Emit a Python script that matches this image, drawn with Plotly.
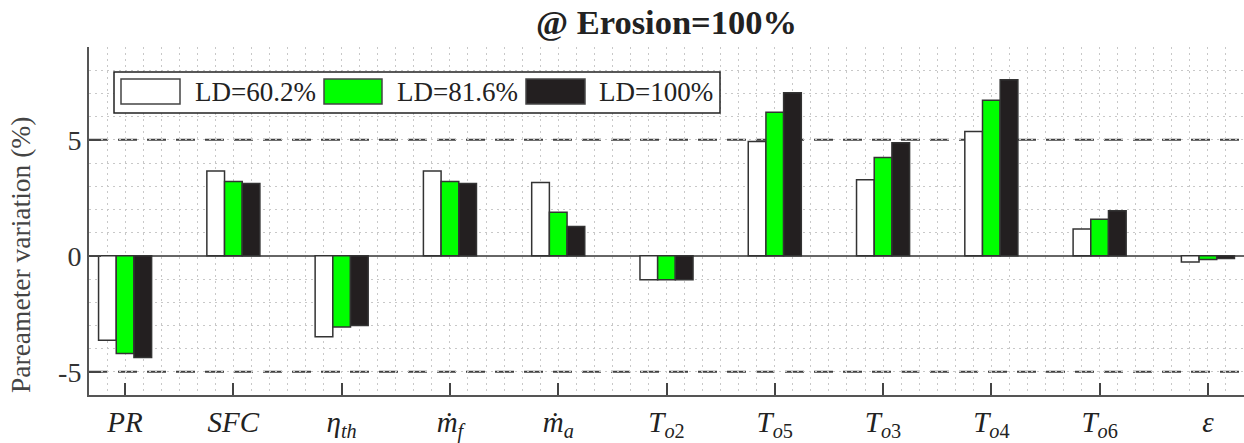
import plotly.graph_objects as go

categories = ["<i>PR</i>", "<i>SFC</i>", "<i>η</i><sub><i>th</i></sub>", "<i>ṁ</i><sub><i>f</i></sub>",
              "<i>ṁ</i><sub><i>a</i></sub>", "<i>T</i><sub><i>o</i>2</sub>", "<i>T</i><sub><i>o</i>5</sub>",
              "<i>T</i><sub><i>o</i>3</sub>", "<i>T</i><sub><i>o</i>4</sub>", "<i>T</i><sub><i>o</i>6</sub>", "<i>ε</i>"]
positions = list(range(1, len(categories) + 1))

series_names = ["LD=60.2%", "LD=81.6%", "LD=100%"]
ld_60 = [-3.64, 3.66, -3.49, 3.66, 3.16, -1.03, 4.93, 3.28, 5.36, 1.16, -0.27]
ld_82 = [-4.21, 3.20, -3.07, 3.20, 1.88, -1.03, 6.19, 4.24, 6.71, 1.58, -0.16]
ld_100 = [-4.38, 3.12, -3.00, 3.12, 1.26, -1.03, 7.03, 4.87, 7.59, 1.94, -0.12]
series_values = [ld_60, ld_82, ld_100]
series_colors = ["#ffffff", "#00ff00", "#231f20"]

y_ticks = [-5, 0, 5]
y_tick_labels = ["-5", "0", "5"]

FONT = "Liberation Serif"

W, H = 1244, 443
L, R, T, B = 89, 0, 47, 48
PW, PH = W - L - R, H - T - B

fig = go.Figure()
for name, vals, col in zip(series_names, series_values, series_colors):
    fig.add_trace(go.Bar(
        x=positions, y=vals, name=name,
        marker=dict(color=col, line=dict(color="#333333", width=1.5)),
        showlegend=False,
    ))

# reference lines at +/-5
for yv in (5, -5):
    fig.add_shape(type="line", xref="paper", x0=0, x1=1, yref="y", y0=yv, y1=yv,
                  line=dict(color="#404040", width=2, dash="19px,10px"), layer="below")

# pixel -> paper conversion
def px(x):
    return (x - L) / PW
def py(y):
    return (H - B - y) / PH

# custom legend (box + swatches + labels)
fig.add_shape(type="rect", xref="paper", yref="paper",
              x0=px(114), x1=px(720), y0=py(113), y1=py(72),
              line=dict(color="#222222", width=1.5), fillcolor="white", layer="above")
swatches = [(121, 180, 193), (324, 382, 395), (526, 585, 597)]
for (sx0, sx1, tx), name, col in zip(swatches, series_names, series_colors):
    fig.add_shape(type="rect", xref="paper", yref="paper",
                  x0=px(sx0), x1=px(sx1), y0=py(104), y1=py(79),
                  line=dict(color="#444444", width=1.5), fillcolor=col, layer="above")
    fig.add_annotation(xref="paper", yref="paper", x=px(tx), y=py(92), text=name,
                       showarrow=False, xanchor="left", yanchor="middle",
                       font=dict(family=FONT, size=27, color="#222222"))

# y-axis title
fig.add_annotation(xref="paper", yref="paper", x=px(21), y=py(255),
                   text="Pareameter variation (%)", textangle=-90, showarrow=False,
                   xanchor="center", yanchor="middle",
                   font=dict(family=FONT, size=27.5, color="#444444"))

fig.update_layout(
    width=W, height=H,
    margin=dict(l=L, r=R, t=T, b=B, autoexpand=False),
    paper_bgcolor="white", plot_bgcolor="white",
    barmode="group", bargap=0.51, bargroupgap=0,
    title=dict(text="<b>@ Erosion=100%</b>", x=(L + W) / 2 / W, xanchor="center",
               y=1 - 22 / H, yanchor="middle",
               font=dict(family=FONT, size=34.5, color="#222222")),
    font=dict(family=FONT, color="#333333"),
)

fig.update_xaxes(
    range=[2 / 3, 11 + 1 / 3], automargin=False,
    tickmode="array", tickvals=positions, ticktext=categories,
    tickfont=dict(family=FONT, size=29, color="#222222"),
    ticks="inside", ticklen=12, tickwidth=1.5, tickcolor="#444444",
    showline=True, linecolor="#555555", linewidth=2,
    showgrid=True, gridcolor="#c8c8c8", griddash="2px,4px", gridwidth=1,
    minor=dict(dtick=1 / 6, tick0=1, showgrid=True, gridcolor="#c8c8c8",
               griddash="2px,4px", gridwidth=1, ticks=""),
    zeroline=False,
)
fig.update_yaxes(
    range=[-6, 9], automargin=False,
    tickmode="array", tickvals=y_ticks, ticktext=y_tick_labels,
    tickfont=dict(family=FONT, size=28, color="#333333"),
    ticks="inside", ticklen=12, tickwidth=1.5, tickcolor="#444444",
    showline=True, linecolor="#555555", linewidth=2,
    showgrid=False,
    minor=dict(dtick=1, tick0=0, showgrid=True, gridcolor="#c8c8c8",
               griddash="2px,4px", gridwidth=1, ticks=""),
    zeroline=True, zerolinecolor="#666666", zerolinewidth=1.5,
)

fig.write_html("out.html")
